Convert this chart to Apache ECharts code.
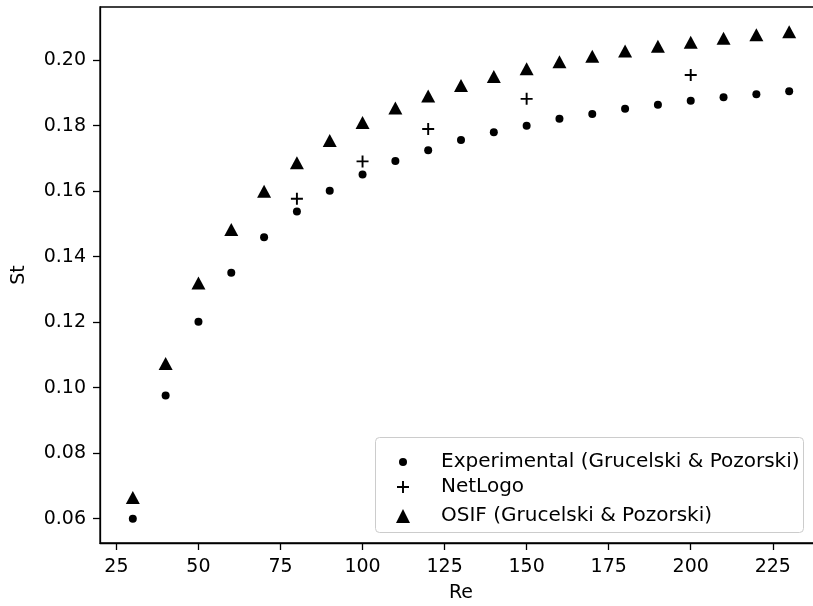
<!DOCTYPE html>
<html>
<head>
<meta charset="utf-8">
<script src="https://cdn.jsdelivr.net/npm/echarts@6/dist/echarts.min.js"></script>
<style>
  html, body { margin: 0; padding: 0; background: #fff; }
  #chart { width: 813px; height: 606px; }
</style>
</head>
<body>
<div id="chart"></div>
<script>
// Re values and St values
const reExp = [30, 40, 50, 60, 70, 80, 90, 100, 110, 120, 130, 140, 150, 160, 170, 180, 190, 200, 210, 220, 230];
const stExp = [0.0600, 0.0976, 0.1201, 0.1351, 0.1459, 0.1538, 0.1601, 0.1651, 0.1692, 0.1725, 0.1756, 0.1780,
  0.1800, 0.1821, 0.1836, 0.1852, 0.1864, 0.1876, 0.1887, 0.1896, 0.1905];

const reNet = [80, 100, 120, 150, 200];
const stNet = [0.1577, 0.1691, 0.1790, 0.1882, 0.1955];

const reOsif = [30, 40, 50, 60, 70, 80, 90, 100, 110, 120, 130, 140, 150, 160, 170, 180, 190, 200, 210, 220, 230];
const stOsif = [0.0665, 0.1074, 0.1320, 0.1483, 0.1600, 0.1687, 0.1755, 0.1810, 0.1854, 0.1891, 0.1923, 0.1950,
  0.1974, 0.1995, 0.2012, 0.2028, 0.2043, 0.2055, 0.2067, 0.2078, 0.2087];

const xTicks = [25, 50, 75, 100, 125, 150, 175, 200, 225];
const yTicks = [0.06, 0.08, 0.10, 0.12, 0.14, 0.16, 0.18, 0.20];

const names = ["Experimental (Grucelski & Pozorski)", "NetLogo", "OSIF (Grucelski & Pozorski)"];

const font = "DejaVu Sans";
const tickSize = 19;
const legendSize = 20;
const plusPath = "path://M0,4.2H4.2V0H5.8V4.2H10V5.8H5.8V10H4.2V5.8H0Z";

function pairs(xs, ys) {
  return xs.map((x, i) => [x, ys[i]]);
}

// one legend per row so every icon keeps its own size
function legendRow(name, icon, size, centerY) {
  const iconCenterX = 403;
  const textStart = 441;
  return {
    data: [{ name: name, icon: icon }],
    left: iconCenterX - size / 2,
    top: centerY - legendSize / 2,
    padding: 0,
    itemWidth: size,
    itemHeight: size,
    selectedMode: false,
    itemStyle: { color: "#000", borderWidth: 0 },
    textStyle: {
      fontFamily: font,
      fontSize: legendSize,
      color: "#000",
      padding: [0, 0, 0, textStart - (iconCenterX + size / 2 + 5)],
    },
    z: 10,
  };
}

const chart = echarts.init(document.getElementById("chart"), null, { renderer: "canvas" });

chart.setOption({
  animation: false,
  backgroundColor: "#fff",
  grid: {
    left: 100,
    top: 7,
    width: 722,
    height: 536,
    outerBoundsMode: "none",
    containLabel: false,
    show: true,
    borderColor: "#000",
    borderWidth: 1.3,
    backgroundColor: "transparent",
  },
  xAxis: {
    type: "value",
    min: 20,
    max: 240,
    name: "Re",
    nameLocation: "middle",
    nameGap: 41,
    nameTextStyle: { fontFamily: font, fontSize: tickSize, color: "#000" },
    axisLine: { show: true, lineStyle: { color: "#000", width: 1.3 } },
    axisTick: { show: true, length: 7, lineStyle: { color: "#000", width: 1.3 }, customValues: xTicks },
    axisLabel: { fontFamily: font, fontSize: tickSize, color: "#000", margin: 15, customValues: xTicks },
    splitLine: { show: false },
  },
  yAxis: {
    type: "value",
    min: 0.05257,
    max: 0.21625,
    name: "St",
    nameLocation: "middle",
    nameGap: 71,
    nameTextStyle: { fontFamily: font, fontSize: tickSize, color: "#000" },
    axisLine: { show: true, lineStyle: { color: "#000", width: 1.3 } },
    axisTick: { show: true, length: 7, lineStyle: { color: "#000", width: 1.3 }, customValues: yTicks },
    axisLabel: {
      fontFamily: font,
      fontSize: tickSize,
      color: "#000",
      margin: 14,
      customValues: yTicks,
      formatter: (v) => v.toFixed(2),
    },
    splitLine: { show: false },
  },
  legend: [
    legendRow(names[0], "circle", 8, 462),
    legendRow(names[1], plusPath, 12, 487),
    legendRow(names[2], "triangle", 14, 516),
  ],
  graphic: [
    {
      type: "rect",
      left: 375,
      top: 437,
      shape: { width: 428, height: 95, r: 4 },
      style: { fill: "rgba(255,255,255,0.8)", stroke: "#cccccc", lineWidth: 1 },
      z: 5,
    },
  ],
  series: [
    {
      name: names[0],
      type: "scatter",
      symbol: "circle",
      symbolSize: 8,
      itemStyle: { color: "#000", opacity: 1 },
      data: pairs(reExp, stExp),
    },
    {
      name: names[1],
      type: "scatter",
      symbol: plusPath,
      symbolSize: 12,
      itemStyle: { color: "#000", opacity: 1 },
      data: pairs(reNet, stNet),
    },
    {
      name: names[2],
      type: "scatter",
      symbol: "triangle",
      symbolSize: [14, 13],
      itemStyle: { color: "#000", opacity: 1 },
      data: pairs(reOsif, stOsif),
    },
  ],
});
</script>
</body>
</html>
